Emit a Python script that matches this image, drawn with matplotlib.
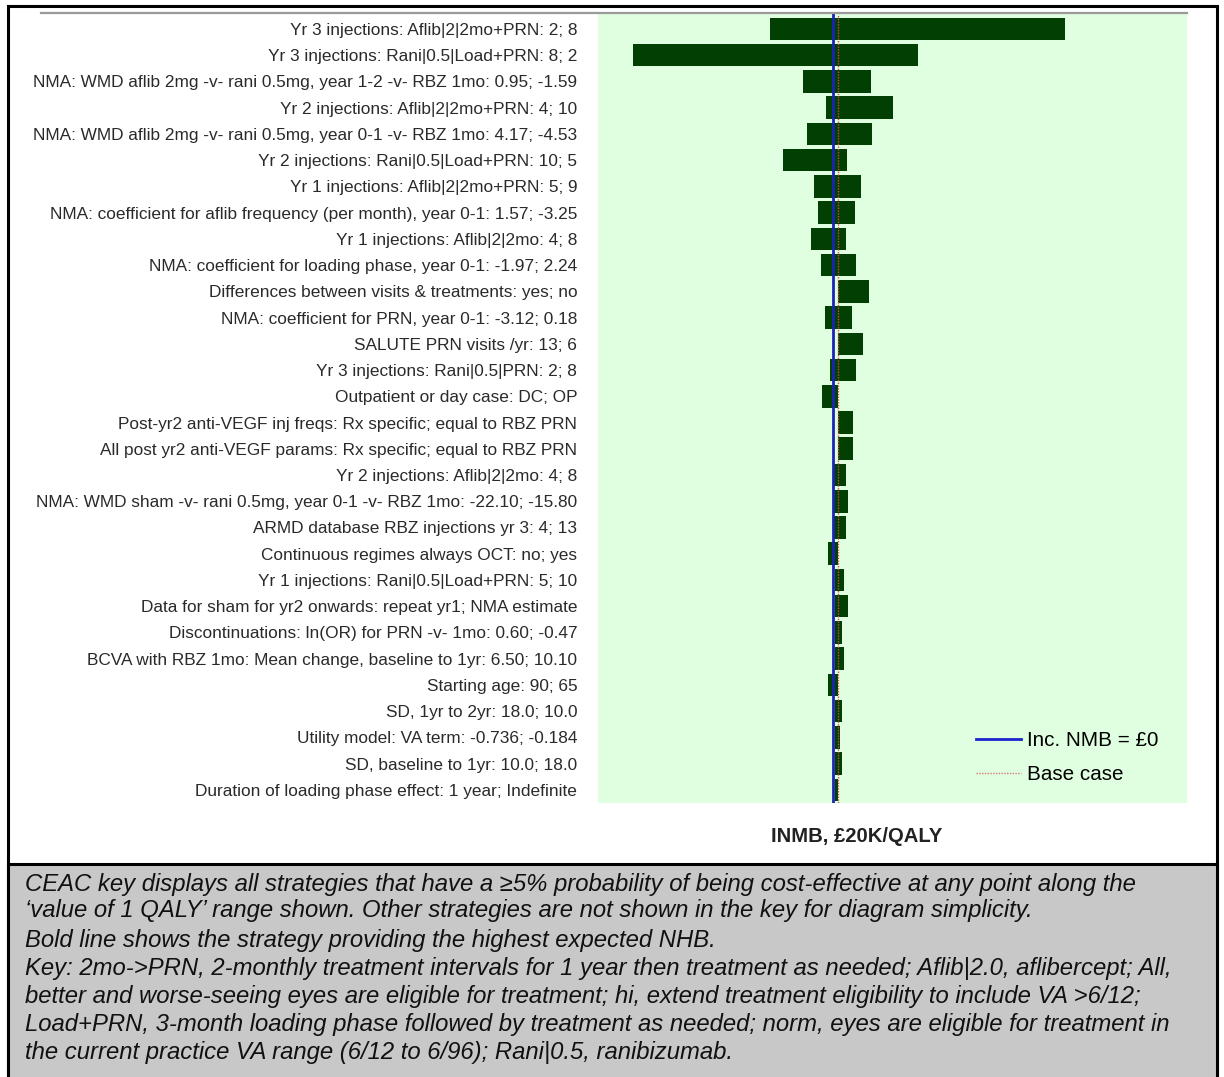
import matplotlib
matplotlib.use("Agg")
import matplotlib.pyplot as plt
from matplotlib.lines import Line2D
from matplotlib.patches import Rectangle
from matplotlib import font_manager

# ---------------- data ----------------
labels = [
    "Yr 3 injections: Aflib|2|2mo+PRN: 2; 8",
    "Yr 3 injections: Rani|0.5|Load+PRN: 8; 2",
    "NMA: WMD aflib 2mg -v- rani 0.5mg, year 1-2 -v- RBZ 1mo: 0.95; -1.59",
    "Yr 2 injections: Aflib|2|2mo+PRN: 4; 10",
    "NMA: WMD aflib 2mg -v- rani 0.5mg, year 0-1 -v- RBZ 1mo: 4.17; -4.53",
    "Yr 2 injections: Rani|0.5|Load+PRN: 10; 5",
    "Yr 1 injections: Aflib|2|2mo+PRN: 5; 9",
    "NMA: coefficient for aflib frequency (per month), year 0-1: 1.57; -3.25",
    "Yr 1 injections: Aflib|2|2mo: 4; 8",
    "NMA: coefficient for loading phase, year 0-1: -1.97; 2.24",
    "Differences between visits & treatments: yes; no",
    "NMA: coefficient for PRN, year 0-1: -3.12; 0.18",
    "SALUTE PRN visits /yr: 13; 6",
    "Yr 3 injections: Rani|0.5|PRN: 2; 8",
    "Outpatient or day case: DC; OP",
    "Post-yr2 anti-VEGF inj freqs: Rx specific; equal to RBZ PRN",
    "All post yr2 anti-VEGF params: Rx specific; equal to RBZ PRN",
    "Yr 2 injections: Aflib|2|2mo: 4; 8",
    "NMA: WMD sham -v- rani 0.5mg, year 0-1 -v- RBZ 1mo: -22.10; -15.80",
    "ARMD database RBZ injections yr 3: 4; 13",
    "Continuous regimes always OCT: no; yes",
    "Yr 1 injections: Rani|0.5|Load+PRN: 5; 10",
    "Data for sham for yr2 onwards: repeat yr1; NMA estimate",
    "Discontinuations: ln(OR) for PRN -v- 1mo: 0.60; -0.47",
    "BCVA with RBZ 1mo: Mean change, baseline to 1yr: 6.50; 10.10",
    "Starting age: 90; 65",
    "SD, 1yr to 2yr: 18.0; 10.0",
    "Utility model: VA term: -0.736; -0.184",
    "SD, baseline to 1yr: 10.0; 18.0",
    "Duration of loading phase effect: 1 year; Indefinite",
]
# INMB (GBP) at the low / high end of each parameter range
inmb_low = [-1260, -4000, -600, -140, -520, -1000, -380, -300, -440, -240,
            100, -160, 100, -60, -220, 100, 100, 20, 20, 20,
            -100, 40, 40, 40, 40, -100, 40, 40, 40, 40]
inmb_high = [4640, 1700, 760, 1200, 780, 280, 560, 440, 260, 460,
             720, 380, 600, 460, 100, 400, 400, 260, 300, 260,
             100, 220, 300, 180, 220, 100, 180, 140, 180, 100]
base_case = 100
zero_inmb = 0
x_range = (-4700, 7080)

xlabel = "INMB, £20K/QALY"
legend_labels = ["Inc. NMB = £0", "Base case"]

footer_lines = [
    "CEAC key displays all strategies that have a \u22655% probability of being cost-effective at any point along the",
    "\u2018value of 1 QALY\u2019 range shown. Other strategies are not shown in the key for diagram simplicity.",
    "Bold line shows the strategy providing the highest expected NHB.",
    "Key: 2mo->PRN, 2-monthly treatment intervals for 1 year then treatment as needed; Aflib|2.0, aflibercept; All,",
    "better and worse-seeing eyes are eligible for treatment; hi, extend treatment eligibility to include VA >6/12;",
    "Load+PRN, 3-month loading phase followed by treatment as needed; norm, eyes are eligible for treatment in",
    "the current practice VA range (6/12 to 6/96); Rani|0.5, ranibizumab.",
]
footer_y = [885, 911, 940, 969, 997, 1025, 1053]

# ---------------- figure ----------------
W, H, DPI = 1224, 1077, 100
fig = plt.figure(figsize=(W / DPI, H / DPI), dpi=DPI)
fig.patch.set_facecolor("white")


def fx(px):
    return px / W


def fy(py):
    return 1 - py / H


avail = {f.name for f in font_manager.fontManager.ttflist}
LAB_FONT = "Liberation Sans Narrow" if "Liberation Sans Narrow" in avail else "Liberation Sans"
TXT_FONT = "Liberation Sans"
renderer = fig.canvas.get_renderer()


def fit_size(text, target_px, family, **kw):
    t = fig.text(0, 0, text, fontsize=10, family=family, **kw)
    w = t.get_window_extent(renderer).width
    t.remove()
    return 10 * target_px / w


lab_fs = fit_size(max(labels, key=len), 527, LAB_FONT)
leg_fs = fit_size(legend_labels[0], 131, LAB_FONT)
foot_fs = fit_size(footer_lines[0], 1116, TXT_FONT, style="italic")
xl_fs = fit_size(xlabel, 171, LAB_FONT, weight="bold")

# frame + footer
fig.add_artist(Rectangle((fx(8), -0.02), fx(1217) - fx(8), fy(6) + 0.02, transform=fig.transFigure,
                         facecolor="white", edgecolor="black", lw=2.2, zorder=0))
fig.add_artist(Rectangle((fx(8), -0.02), fx(1217) - fx(8), fy(864) + 0.02, transform=fig.transFigure,
                         facecolor="#c8c8c8", edgecolor="black", lw=2.2, zorder=1))

# axes
ax_l, ax_r, ax_t, ax_b = 598, 1187, 14, 803
ax = fig.add_axes([fx(ax_l), fy(ax_b), fx(ax_r) - fx(ax_l), fy(ax_t) - fy(ax_b)])
ax.set_facecolor("#e0ffe0")
for s in ax.spines.values():
    s.set_visible(False)

n = len(labels)
ypos = list(range(n))
widths = [h - l for l, h in zip(inmb_low, inmb_high)]
ax.barh(ypos, widths, left=inmb_low, height=0.86, color="#023f02", edgecolor="none", zorder=2)
ax.axvline(zero_inmb, color="#1c24b8", lw=2.0, zorder=3)
ax.axvline(base_case, color="#c8504a", lw=1.0, ls=(0, (1, 1)), zorder=4)

ax.set_xlim(*x_range)
ax.set_ylim(n - 0.5, -0.57)
ax.set_xticks([])
ax.set_yticks(ypos)
ax.set_yticklabels(labels, fontsize=lab_fs, family=LAB_FONT, color="#2a2a2a")
ax.tick_params(axis="y", length=0, pad=15)

px_per_fs = leg_fs * DPI / 72.0
handles = [Line2D([], [], color="#1c24d0", lw=2.0),
           Line2D([], [], color="#d07a74", lw=1.0, ls=(0, (1, 1)))]
ax.legend(handles, legend_labels, loc="upper left", bbox_to_anchor=(fx(976), fy(731)),
          bbox_transform=fig.transFigure, frameon=False,
          prop={"family": LAB_FONT, "size": leg_fs}, handlelength=45 / px_per_fs,
          handletextpad=6 / px_per_fs, labelspacing=0.75, borderpad=0, borderaxespad=0)

# top grey rule
fig.add_artist(Line2D([fx(41), fx(1187)], [fy(13), fy(13)], color="#9a9a9a", lw=1.6,
                      transform=fig.transFigure, zorder=5))

fig.text(fx(857), fy(837), xlabel, ha="center", va="center", fontsize=xl_fs,
         family=LAB_FONT, weight="bold", color="#222222")

for line, y in zip(footer_lines, footer_y):
    fig.text(fx(25), fy(y), line, ha="left", va="center", fontsize=foot_fs,
             family=TXT_FONT, style="italic", color="#111111", zorder=6)

fig.savefig("out.png", dpi=DPI, facecolor="white")
